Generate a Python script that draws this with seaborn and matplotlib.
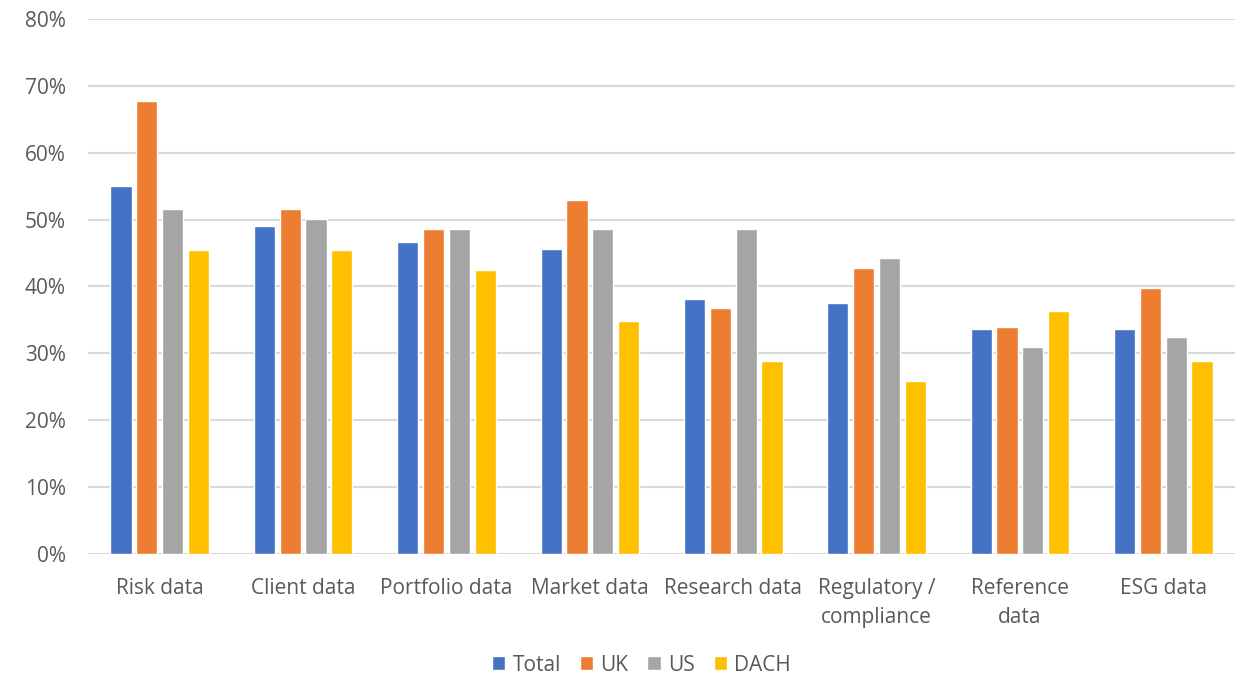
import matplotlib
matplotlib.use("Agg")
import matplotlib.pyplot as plt
import seaborn as sns
import pandas as pd
from matplotlib.ticker import PercentFormatter

categories = ["Risk data", "Client data", "Portfolio data", "Market data", "Research data",
              "Regulatory /\ncompliance", "Reference\ndata", "ESG data"]
series = ["Total", "UK", "US", "DACH"]
total = [55.0, 49.1, 46.6, 45.6, 38.2, 37.6, 33.6, 33.6]
uk = [67.7, 51.6, 48.6, 53.0, 36.8, 42.7, 33.9, 39.7]
us = [51.6, 50.1, 48.6, 48.6, 48.6, 44.2, 30.9, 32.4]
dach = [45.5, 45.5, 42.4, 34.9, 28.8, 25.8, 36.4, 28.8]
colors = ["#4472C4", "#ED7D31", "#A5A5A5", "#FFC000"]

rows = []
for s, vals in zip(series, [total, uk, us, dach]):
    for c, v in zip(categories, vals):
        rows.append({"category": c, "series": s, "value": v})
df = pd.DataFrame(rows)

sns.set_theme(style="white")
plt.rcParams['font.family'] = ['Open Sans', 'DejaVu Sans']
txt = "#595959"
fs = 15

fig = plt.figure(figsize=(12.43, 6.77), dpi=100)
ax = fig.add_axes([0.0708, 0.1817, 0.9228, 0.7903])
sns.barplot(data=df, x="category", y="value", hue="series", order=categories,
            hue_order=series, palette=colors, width=0.72, gap=0.18, ax=ax,
            saturation=1, errorbar=None, legend=True)
ax.set_ylim(0, 80)
ax.set_xlim(-0.5, 7.5)
ax.set_yticks(range(0, 81, 10))
ax.yaxis.set_major_formatter(PercentFormatter(decimals=0))
ax.yaxis.grid(True, color="#d9d9d9", linewidth=1.5)
ax.set_axisbelow(True)
for sp in ax.spines.values():
    sp.set_visible(False)
ax.set_xlabel("")
ax.set_ylabel("")
ax.tick_params(axis="both", length=0, labelsize=fs, colors=txt)
ax.tick_params(axis="y", pad=16)
ax.tick_params(axis="x", pad=17)
for lab in ax.get_xticklabels():
    lab.set_linespacing(1.5)

handles, labels = ax.get_legend_handles_labels()
ax.legend(handles, labels, loc="center", bbox_to_anchor=(0.516, 0.0175),
          bbox_transform=fig.transFigure, ncol=4, borderpad=0.2,
          frameon=False, fontsize=fs, handlelength=0.65, handleheight=0.65,
          handletextpad=0.35, columnspacing=0.9, labelcolor=txt)

fig.savefig("out.png", dpi=100, facecolor="white")
